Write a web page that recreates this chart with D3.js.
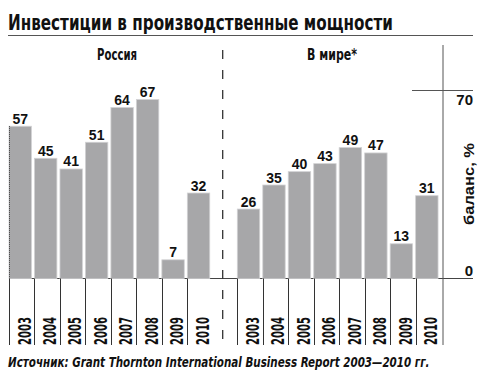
<!DOCTYPE html>
<html><head><meta charset="utf-8">
<script src="https://cdn.jsdelivr.net/npm/d3@7"></script>
<style>body{margin:0;background:#fff}svg{display:block}</style>
</head><body>
<script>
const title = "Инвестиции в производственные мощности";
const panelTitles = ["Россия", "В мире*"];
const years = ["2003","2004","2005","2006","2007","2008","2009","2010"];
const russia = [57,45,41,51,64,67,7,32];
const world = [26,35,40,43,49,47,13,31];
const yTicks = [0,70];
const yLabel = "баланс, %";
const source = "Источник: Grant Thornton International Business Report 2003—2010 гг.";

const W = 500, H = 378;
const svg = d3.select("body").append("svg").attr("width", W).attr("height", H);
const narrow = "'Liberation Sans Narrow','DejaVu Sans Condensed','Arial Narrow',sans-serif";
const sans = "'Liberation Sans',Arial,sans-serif";

// place text at (x,y) with optional rotation, horizontally scaled to a target width
function fitText(sel, x, y, target, rot, anchorShift) {
  const w = sel.node().getComputedTextLength();
  const k = target / w;
  sel.attr("transform", `translate(${x},${y})${rot ? ` rotate(${rot})` : ""} scale(${k},1)`);
}

const y = d3.scaleLinear().domain([0,70]).range([278.5, 91.5]);
const baseY = y(0), cellBottom = 345;

// title
const t = svg.append("text").text(title)
  .attr("font-family",narrow).attr("font-weight","bold").attr("font-size",21).attr("fill","#111");
fitText(t, 8, 29.5, 385);
svg.append("line").attr("x1",8).attr("x2",473).attr("y1",35.5).attr("y2",35.5)
  .attr("stroke","#555").attr("stroke-width",1);

const panels = [
  {name: panelTitles[0], values: russia, range: [9, 212.8], cx: 117, tl: 40},
  {name: panelTitles[1], values: world, range: [237.3, 441.1], cx: 332, tl: 50}
];

// baseline
svg.append("line").attr("x1",9).attr("x2",473).attr("y1",baseY).attr("y2",baseY)
  .attr("stroke","#444").attr("stroke-width",1);

panels.forEach(p => {
  const x = d3.scaleBand().domain(years).range(p.range)
    .paddingInner(0.12).paddingOuter(0.06).align(0);
  const g = svg.append("g");
  const ht = svg.append("text").attr("text-anchor","middle").text(p.name)
    .attr("font-family",narrow).attr("font-weight","bold").attr("font-size",16).attr("fill","#111");
  fitText(ht, p.cx, 60, p.tl);
  g.selectAll("rect").data(p.values).join("rect")
    .attr("x",(d,i)=>x(years[i])).attr("width",x.bandwidth())
    .attr("y",d=>y(d)).attr("height",d=>y(0)-y(d))
    .attr("fill","#a7a7a9").attr("stroke","#d2d2d4").attr("stroke-width",0.8);
  g.selectAll("text.v").data(p.values).join("text").attr("class","v")
    .attr("x",(d,i)=>x(years[i])+x.bandwidth()/2).attr("y",d=>y(d)-2.5)
    .attr("text-anchor","middle").text(d=>d)
    .attr("font-family",sans).attr("font-weight","bold").attr("font-size",14).attr("fill","#111");
  // cell separators
  g.selectAll("line.sep").data(years).join("line").attr("class","sep")
    .attr("x1",d=>Math.round(x(d))+0.5).attr("x2",d=>Math.round(x(d))+0.5)
    .attr("y1",baseY).attr("y2",cellBottom).attr("stroke","#333").attr("stroke-width",1);
  g.selectAll("text.yr").data(years).join("text").attr("class","yr")
    .text(d=>d).attr("font-family",narrow).attr("font-weight","bold").attr("font-size",17).attr("fill","#111")
    .each(function(d){ fitText(d3.select(this), x(d)+21.5, cellBottom, 28, -90); });
});

// left edge of first bar
svg.append("line").attr("x1",9.5).attr("x2",9.5).attr("y1",y(russia[0])).attr("y2",baseY)
  .attr("stroke","#333").attr("stroke-width",1).attr("stroke-dasharray","1,1");

// dashed separator
svg.append("line").attr("x1",222.7).attr("x2",222.7).attr("y1",50).attr("y2",cellBottom)
  .attr("stroke","#333").attr("stroke-width",1.3).attr("stroke-dasharray","9,11");

// right axis
svg.append("line").attr("x1",443).attr("x2",443).attr("y1",45).attr("y2",cellBottom)
  .attr("stroke","#555").attr("stroke-width",1);
svg.append("line").attr("x1",412).attr("x2",473).attr("y1",y(70)-1).attr("y2",y(70)-1)
  .attr("stroke","#555").attr("stroke-width",1);
svg.selectAll("text.tick").data(yTicks).join("text").attr("class","tick")
  .attr("x",473).attr("y",d=>d===70 ? y(d)+13.5 : y(d)-2.5).attr("text-anchor","end")
  .text(d=>d).attr("font-family",sans).attr("font-weight","bold").attr("font-size",15).attr("fill","#111");
const yl = svg.append("text").attr("text-anchor","middle")
  .text(yLabel).attr("font-family",sans).attr("font-weight","bold").attr("font-size",15).attr("fill","#111");
fitText(yl, 474, 184, 82, -90);

// source
const s = svg.append("text").text(source)
  .attr("font-family",narrow).attr("font-weight","bold").attr("font-style","italic").attr("font-size",14.5).attr("fill","#111");
fitText(s, 8, 366.5, 422);
</script>
</body></html>
